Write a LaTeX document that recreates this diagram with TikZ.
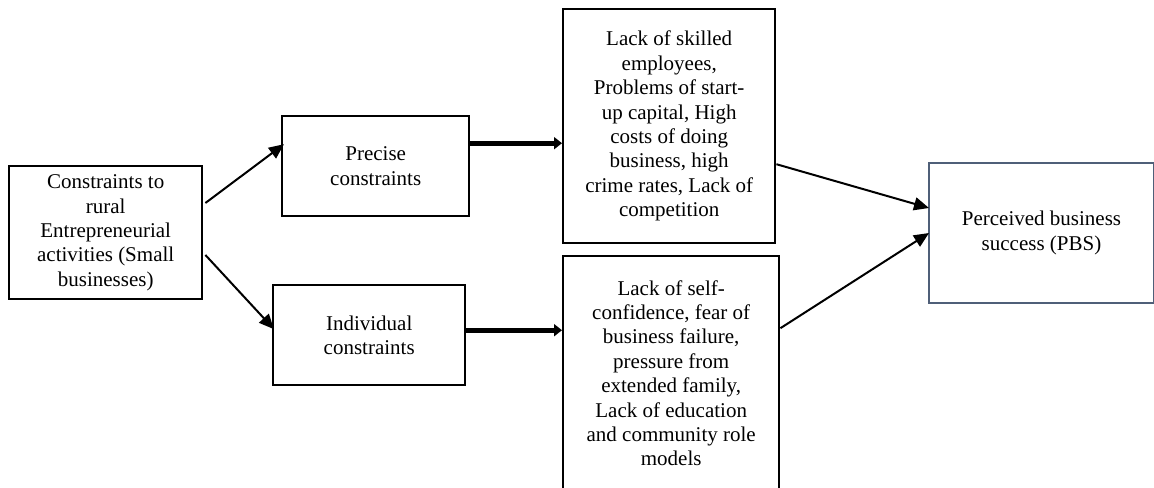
\documentclass[tikz,border=0pt]{standalone}
\usepackage{fontspec}
\setmainfont{Liberation Serif}
\usetikzlibrary{arrows.meta,calc}
\definecolor{pbsblue}{HTML}{4F5F78}
\begin{document}
\begin{tikzpicture}[x=0.5pt,y=-0.5pt,
  box/.style={draw=black,line width=1.2pt,inner sep=0pt,align=center,
    font=\fontsize{10.5pt}{12.2pt}\selectfont,anchor=north west},
  thinarrow/.style={line width=1pt,-{Triangle[length=7.5pt,width=6.5pt]}},
  thickarrow/.style={line width=2.6pt,-{Triangle[length=4pt,width=6pt]}}]
\useasboundingbox (0,0) rectangle (1154,487);
\node[box,minimum width=96.5pt,minimum height=66.5pt] (L) at (8,165)
  {Constraints to\\rural\\Entrepreneurial\\activities (Small\\businesses)};
\node[box,minimum width=93.5pt,minimum height=50pt] (P) at (281,115)
  {Precise\\constraints};
\node[box,minimum width=96pt,minimum height=50pt] (I) at (272,284)
  {Individual\\constraints};
\node[box,minimum width=106pt,minimum height=117pt] (TR) at (562,8)
  {Lack of skilled\\employees,\\Problems of start-\\up capital, High\\costs of doing\\business, high\\crime rates, Lack of\\competition};
\node[box,minimum width=108pt,minimum height=117pt] (BR) at (562,255)
  {Lack of self-\\confidence, fear of\\business failure,\\pressure from\\extended family,\\Lack of education\\and community role\\models};
\node[box,draw=pbsblue,line width=1pt,minimum width=112.5pt,minimum height=70pt] (PBS) at (928,162)
  {Perceived business\\success (PBS)};
\draw[thinarrow] ($(L.north east)+(2,38)$) -- ($(P.west)+(3,-22)$);
\draw[thinarrow] ($(L.north east)+(2,90)$) -- ($(I.west)+(2,-6)$);
\draw[thickarrow] ($(P.east)+(0,-23)$) coordinate (a1) -- (a1 -| TR.west);
\draw[thickarrow] ($(I.east)+(0,-5)$) coordinate (a2) -- (a2 -| BR.west);
\draw[thinarrow] ($(TR.east)+(0,38)$) -- ($(PBS.west)+(1,-25)$);
\draw[thinarrow] ($(BR.east)+(0,-45)$) -- ($(PBS.west)+(1,0)$);
\end{tikzpicture}
\end{document}
